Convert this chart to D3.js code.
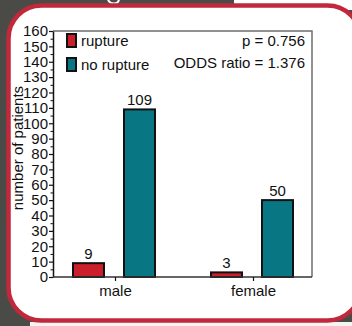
<!DOCTYPE html>
<html>
<head>
<meta charset="utf-8">
<script src="https://cdn.jsdelivr.net/npm/d3@7"></script>
<style>
  html, body { margin: 0; padding: 0; background: #4a4b47; }
  svg { display: block; }
  text { font-family: "Liberation Sans", Arial, Helvetica, sans-serif; }
</style>
</head>
<body>
<svg id="chart" width="352" height="326"></svg>
<script>
// Patient counts by sex and aneurysm outcome
const groups = ["male", "female"];
const outcomes = ["rupture", "no rupture"];
const ruptureCounts = [9, 3];
const noRuptureCounts = [109, 50];
const outcomeColors = ["#cc1f2c", "#087683"];
const yTicks = [0, 10, 20, 30, 40, 50, 60, 70, 80, 90, 100, 110, 120, 130, 140, 150, 160];
const yMinorTicks = [5, 15, 25, 35, 45, 55, 65, 75, 85, 95, 105, 115, 125, 135, 145, 155];
const statLines = ["p = 0.756", "ODDS ratio = 1.376"];
const yTitle = "number of patients";

const rows = groups.map((g, i) => ({
  group: g,
  values: [
    { key: outcomes[0], value: ruptureCounts[i] },
    { key: outcomes[1], value: noRuptureCounts[i] }
  ]
}));

const svg = d3.select("#chart");
const W = 352, H = 326;

// Panel surroundings
svg.append("rect").attr("x", 0).attr("y", 0).attr("width", W).attr("height", H).attr("fill", "#4a4b47");
svg.append("rect").attr("x", 234).attr("y", 0).attr("width", W - 234).attr("height", 10).attr("fill", "#ffffff");
svg.append("rect").attr("x", 30).attr("y", 322).attr("width", W - 30).attr("height", 4).attr("fill", "#f4f4f4");
// small white mark peeking in at the top edge
svg.append("path")
  .attr("d", "M108,0 Q110,3.5 114,3.5 Q118,3.5 119,0")
  .attr("fill", "none").attr("stroke", "#ffffff").attr("stroke-width", 2);

// Rounded panel with red border
svg.append("rect")
  .attr("x", 8.5).attr("y", 5.5)
  .attr("width", 352).attr("height", 315)
  .attr("rx", 33).attr("ry", 33)
  .attr("fill", "#ffffff")
  .attr("stroke", "#c1283b")
  .attr("stroke-width", 4.5);

// Plot area
const plot = { left: 53, top: 31, right: 312, bottom: 277 };

const y = d3.scaleLinear().domain([0, 160]).range([plot.bottom, plot.top]);
const x0 = d3.scaleBand().domain(groups).range([45, 321]).paddingInner(0).paddingOuter(0);
const x1 = d3.scaleBand().domain(outcomes).range([27, 111]).paddingInner(0.353).paddingOuter(0);
const color = d3.scaleOrdinal().domain(outcomes).range(outcomeColors);

// Frame (top and right)
svg.append("path")
  .attr("d", `M${plot.left},${plot.top}H${plot.right}V${plot.bottom}`)
  .attr("fill", "none").attr("stroke", "#6e6e6e").attr("stroke-width", 1.5);

// Bars
const g = svg.append("g");
const groupSel = g.selectAll("g.grp").data(rows).join("g")
  .attr("class", "grp")
  .attr("transform", d => `translate(${x0(d.group)},0)`);

groupSel.selectAll("rect").data(d => d.values).join("rect")
  .attr("x", d => x1(d.key) + 1)
  .attr("y", d => y(d.value))
  .attr("width", x1.bandwidth() - 2)
  .attr("height", d => y(0) - y(d.value))
  .attr("fill", d => color(d.key))
  .attr("stroke", "#111")
  .attr("stroke-width", 2);

groupSel.selectAll("text.val").data(d => d.values).join("text")
  .attr("class", "val")
  .attr("x", d => x1(d.key) + x1.bandwidth() / 2)
  .attr("y", d => y(d.value) - 4)
  .attr("text-anchor", "middle")
  .attr("font-size", 15)
  .attr("fill", "#111")
  .text(d => d.value);

// Y axis with major and minor ticks
const yAxis = svg.append("g")
  .attr("transform", `translate(${plot.left},0)`)
  .call(d3.axisLeft(y).tickValues(yTicks).tickSize(4).tickPadding(1).tickSizeOuter(0));
yAxis.select(".domain").attr("stroke", "#111").attr("stroke-width", 1.5);
yAxis.selectAll(".tick line").attr("stroke", "#111").attr("stroke-width", 1.2);
yAxis.selectAll(".tick text").attr("font-size", 15).attr("fill", "#111")
  .attr("font-family", "'Liberation Sans', Arial, sans-serif");

const yMinor = svg.append("g")
  .attr("transform", `translate(${plot.left},0)`)
  .call(d3.axisLeft(y).tickValues(yMinorTicks).tickSize(2.5).tickFormat(""));
yMinor.select(".domain").remove();
yMinor.selectAll(".tick line").attr("stroke", "#111").attr("stroke-width", 1);

// X axis
const xCenter = d3.scalePoint().domain(groups)
  .range([x0("male") + x0.bandwidth() / 2 + 1, x0("female") + x0.bandwidth() / 2 + 1]);
const xAxis = svg.append("g")
  .attr("transform", `translate(0,${plot.bottom})`)
  .call(d3.axisBottom(xCenter).tickSize(4).tickPadding(4).tickSizeOuter(0));
xAxis.select(".domain").attr("d", `M${plot.left},0H${plot.right}`)
  .attr("stroke", "#333").attr("stroke-width", 1.5);
xAxis.selectAll(".tick line").attr("stroke", "#111").attr("stroke-width", 1.2);
xAxis.selectAll(".tick text").attr("font-size", 15).attr("fill", "#111")
  .attr("font-family", "'Liberation Sans', Arial, sans-serif");

// Y axis title
svg.append("text")
  .attr("transform", "translate(23,148) rotate(-90)")
  .attr("text-anchor", "middle")
  .attr("font-size", 15)
  .attr("fill", "#111")
  .text(yTitle);

// Legend
const legend = svg.append("g").selectAll("g").data(outcomes).join("g")
  .attr("transform", (d, i) => `translate(67,${34 + i * 24})`);
legend.append("rect")
  .attr("width", 9).attr("height", 13)
  .attr("fill", d => color(d))
  .attr("stroke", "#111").attr("stroke-width", 2);
legend.append("text")
  .attr("x", 14).attr("y", 12)
  .attr("font-size", 15).attr("fill", "#111")
  .text(d => d);

// Test statistics
svg.append("g").selectAll("text").data(statLines).join("text")
  .attr("x", 305)
  .attr("y", (d, i) => 46 + i * 22)
  .attr("text-anchor", "end")
  .attr("font-size", 15).attr("fill", "#111")
  .text(d => d);
</script>
</body>
</html>
